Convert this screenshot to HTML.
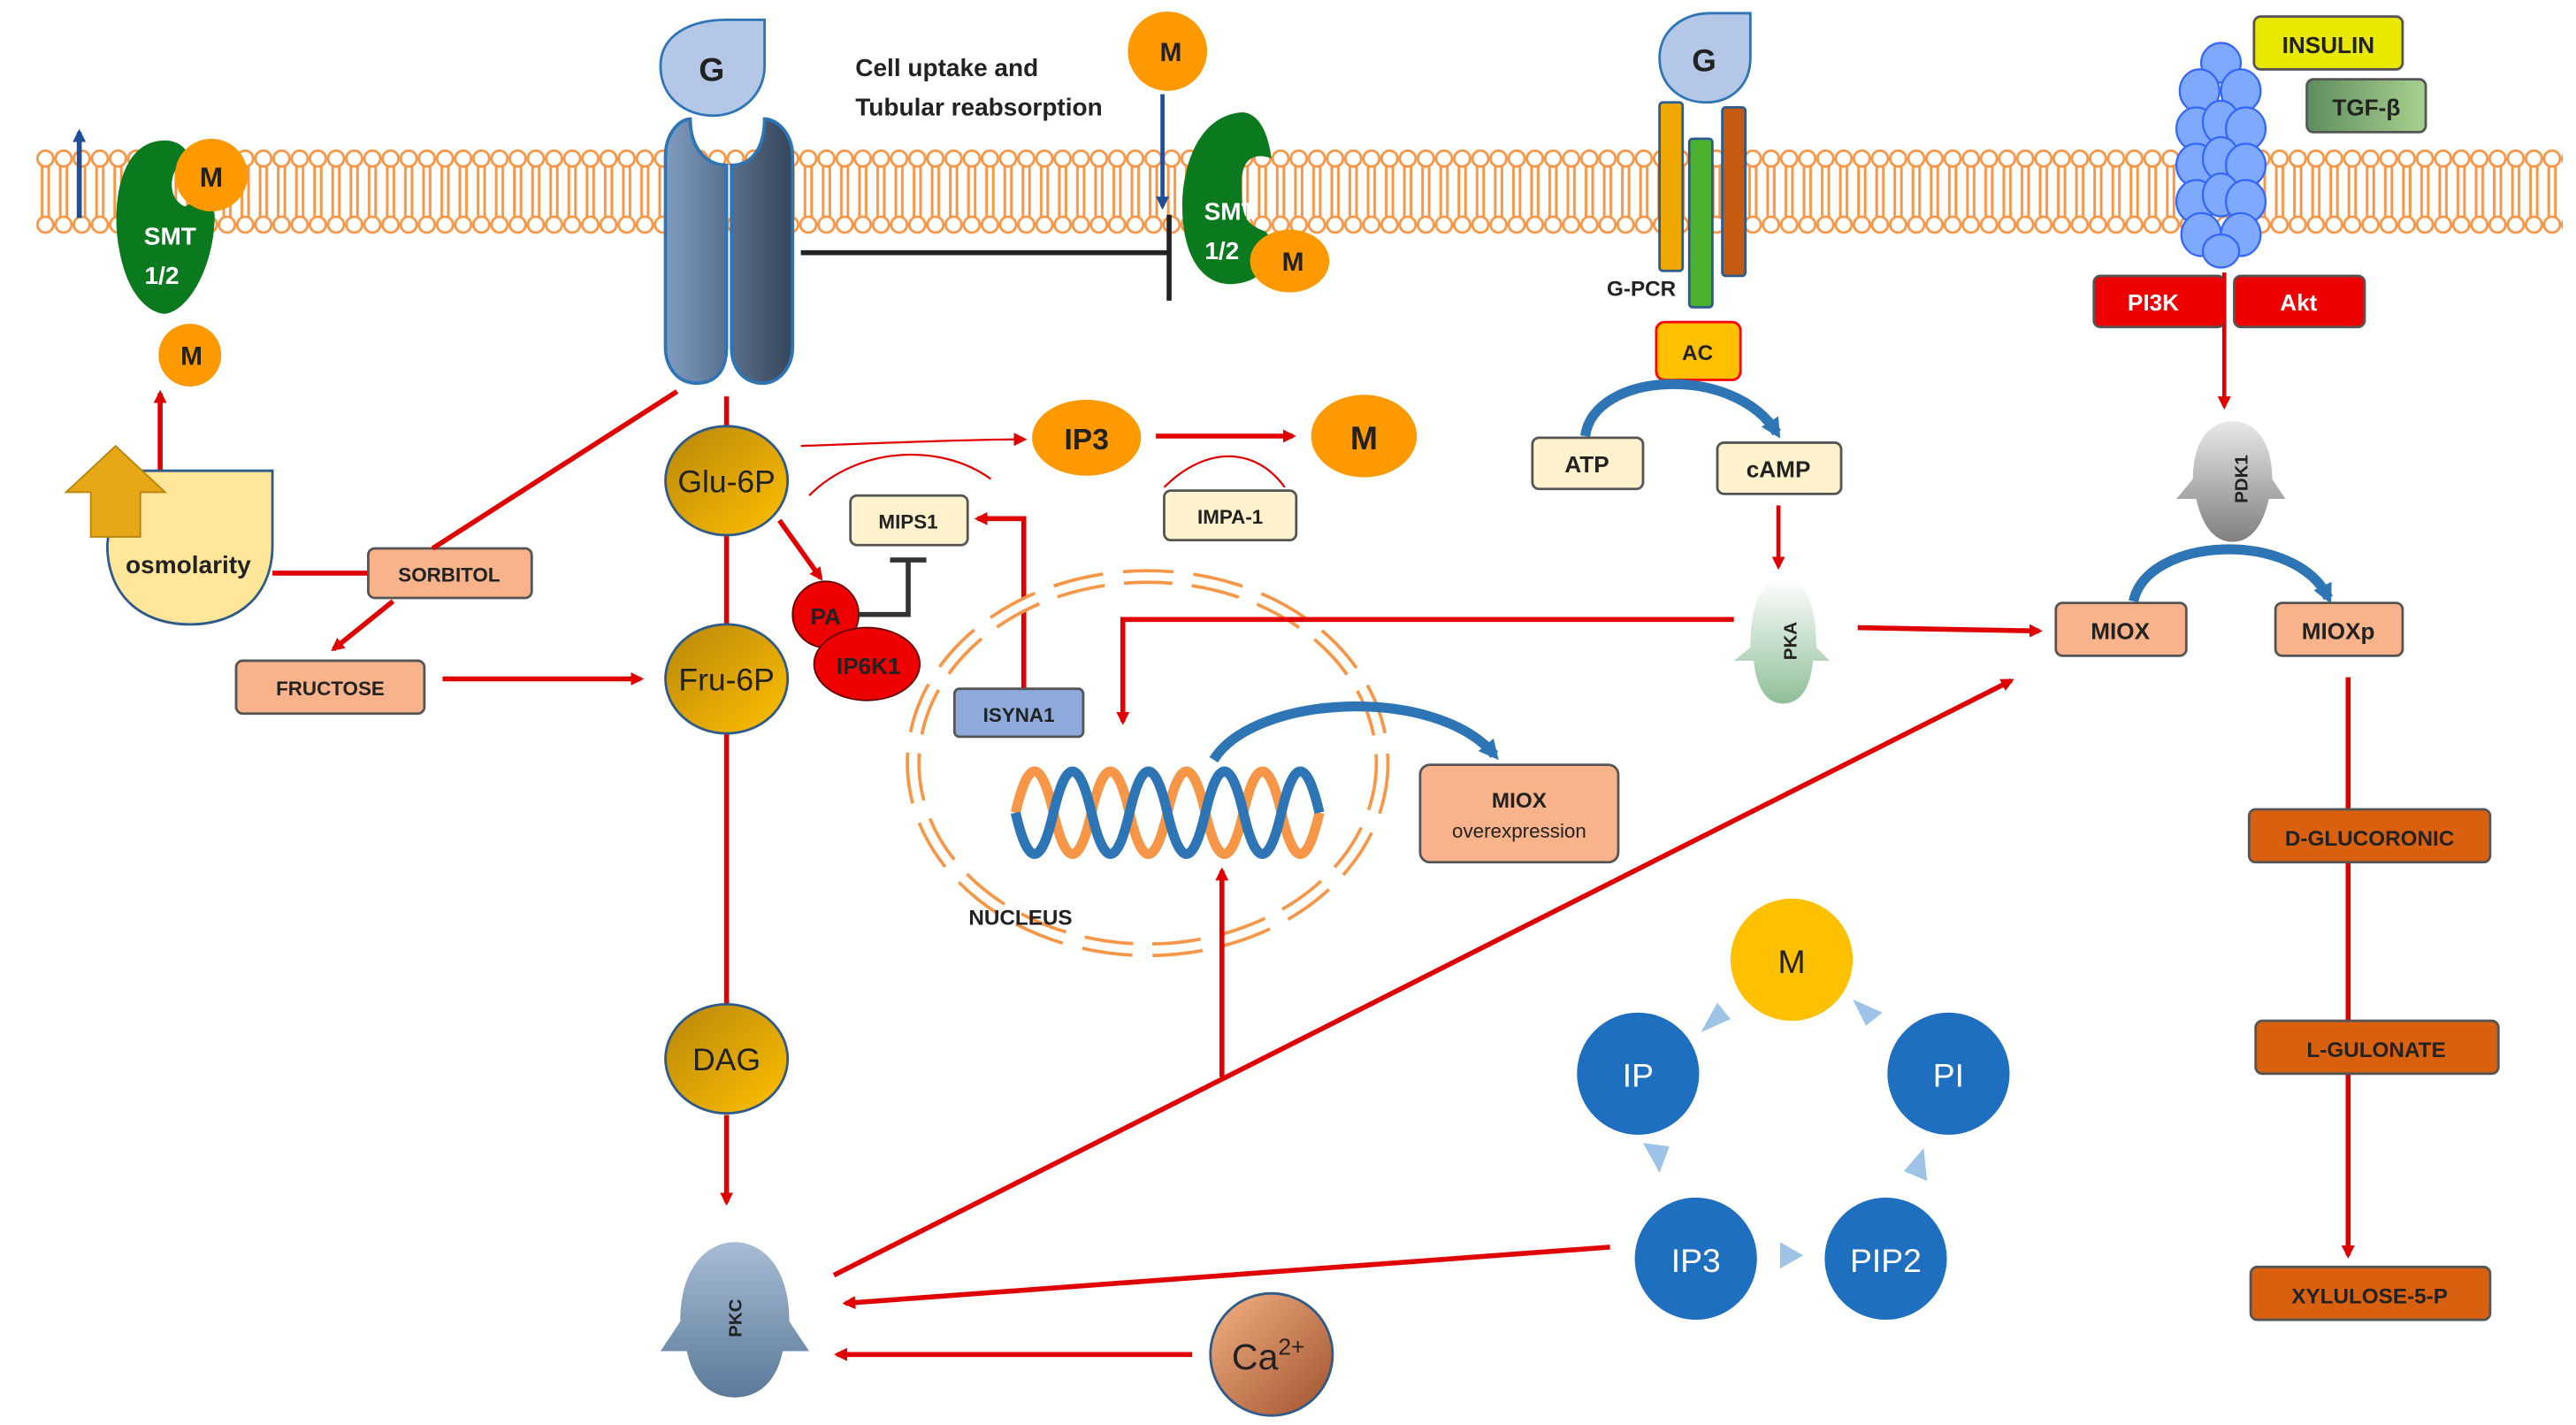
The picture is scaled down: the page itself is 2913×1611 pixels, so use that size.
<!DOCTYPE html>
<html><head><meta charset="utf-8"><style>
html,body{margin:0;padding:0;background:#fff;}
svg{display:block;}
text{font-family:"Liberation Sans",sans-serif;font-weight:bold;}
text.n{font-weight:normal;}
</style></head><body>
<svg width="2913" height="1611" viewBox="0 0 1560 862.7" preserveAspectRatio="none" xmlns="http://www.w3.org/2000/svg">
<defs>
<pattern id="mem" x="0" y="90" width="11" height="52" patternUnits="userSpaceOnUse">
<line x1="3.5" y1="10" x2="3.5" y2="42" stroke="#f79646" stroke-width="1.6"/>
<line x1="7.5" y1="10" x2="7.5" y2="42" stroke="#f79646" stroke-width="1.6"/>
<circle cx="5.5" cy="6" r="4.8" fill="#fff" stroke="#f79646" stroke-width="1.5"/>
<circle cx="5.5" cy="46" r="4.8" fill="#fff" stroke="#f79646" stroke-width="1.5"/>
</pattern>
<linearGradient id="gold" x1="0" y1="0" x2="1" y2="1"><stop offset="0" stop-color="#b8860b"/><stop offset="1" stop-color="#ffc000"/></linearGradient>
<linearGradient id="tp1" x1="0" x2="1"><stop offset="0" stop-color="#7f9cc0"/><stop offset="1" stop-color="#5a7090"/></linearGradient>
<linearGradient id="tp2" x1="0" x2="1"><stop offset="0" stop-color="#5a6e88"/><stop offset="1" stop-color="#34465c"/></linearGradient>
<linearGradient id="pkc" x1="0" y1="0" x2="0" y2="1"><stop offset="0" stop-color="#a8bcd4"/><stop offset="1" stop-color="#5a7a9a"/></linearGradient>
<linearGradient id="pka" x1="0" y1="0" x2="0" y2="1"><stop offset="0" stop-color="#ffffff"/><stop offset="1" stop-color="#8fbf98"/></linearGradient>
<linearGradient id="pdk" x1="0" y1="0" x2="0" y2="1"><stop offset="0" stop-color="#e8e8e8"/><stop offset="1" stop-color="#808080"/></linearGradient>
<linearGradient id="ca" x1="0" y1="0" x2="1" y2="1"><stop offset="0" stop-color="#f4b183"/><stop offset="1" stop-color="#a0522d"/></linearGradient>
<linearGradient id="tgf" x1="0" x2="1"><stop offset="0" stop-color="#5e8e5e"/><stop offset="1" stop-color="#a9d08e"/></linearGradient>
<marker id="ar" markerWidth="8" markerHeight="8" refX="6" refY="4" orient="auto" markerUnits="userSpaceOnUse"><path d="M0,0 L8,4 L0,8 Z" fill="#e00000"/></marker>
<marker id="ab" markerWidth="12" markerHeight="12" refX="8" refY="6" orient="auto" markerUnits="userSpaceOnUse"><path d="M0,0 L12,6 L0,12 Z" fill="#2e75b6"/></marker>
<marker id="abl" markerWidth="8" markerHeight="8" refX="6" refY="4" orient="auto" markerUnits="userSpaceOnUse"><path d="M0,0 L8,4 L0,8 Z" fill="#1f4e99"/></marker>
</defs>

<rect x="22" y="90" width="1530" height="52" fill="url(#mem)"/>

<!-- left SMT -->
<line x1="48" y1="132" x2="48" y2="80" stroke="#1f4e99" stroke-width="3" marker-end="url(#abl)"/>
<path d="M100,85 C70,85 68,130 72,150 C78,185 95,190 100,190 C115,188 130,160 130,130 C128,115 118,122 112,125 C100,120 102,100 115,95 C112,88 106,85 100,85 Z" fill="#0b7a1e"/>
<circle cx="128" cy="106" r="22" fill="#ff9900"/>
<text x="128" y="113" font-size="17" text-anchor="middle" fill="#222">M</text>
<text x="103" y="148" font-size="15" text-anchor="middle" fill="#fff">SMT</text>
<text x="98" y="172" font-size="15" text-anchor="middle" fill="#fff">1/2</text>
<circle cx="115" cy="215" r="19" fill="#ff9900"/>
<text x="116" y="221" font-size="16" text-anchor="middle" fill="#222">M</text>
<line x1="97" y1="285" x2="97" y2="238" stroke="#e00000" stroke-width="3" marker-end="url(#ar)"/>

<!-- osmolarity -->
<path d="M68,300 L68,285 L165,285 L165,330 C165,360 145,378 115,378 C85,378 65,360 65,330 Z" fill="#ffe699" stroke="#2e5b8a" stroke-width="1.5"/>
<path d="M55,325 L55,298 L40,298 L70,270 L100,298 L85,298 L85,325 Z" fill="#e6a817" stroke="#b8860b"/>
<text x="114" y="347" font-size="15" text-anchor="middle" fill="#222">osmolarity</text>
<line x1="165" y1="347" x2="223" y2="347" stroke="#e00000" stroke-width="3"/>
<rect x="223" y="332" width="99" height="30" rx="4" fill="#f8b38a" stroke="#555" stroke-width="1.5"/>
<text x="272" y="352" font-size="12" text-anchor="middle" fill="#222">SORBITOL</text>
<line x1="410" y1="237" x2="262" y2="332" stroke="#e00000" stroke-width="3"/>
<line x1="238" y1="364" x2="202" y2="393" stroke="#e00000" stroke-width="3" marker-end="url(#ar)"/>
<rect x="143" y="400" width="114" height="32" rx="4" fill="#f8b38a" stroke="#555" stroke-width="1.5"/>
<text x="200" y="421" font-size="12" text-anchor="middle" fill="#222">FRUCTOSE</text>
<line x1="268" y1="411" x2="388" y2="411" stroke="#e00000" stroke-width="3" marker-end="url(#ar)"/>

<!-- G transporter -->
<path d="M400,40 C400,20 420,12 440,12 L463,12 L463,40 C463,58 448,70 432,70 C414,70 400,58 400,40 Z" fill="#b4c7e7" stroke="#2e75b6" stroke-width="1.5"/>
<text x="431" y="49" font-size="20" text-anchor="middle" fill="#222">G</text>
<path d="M403,95 C403,80 412,72 418,72 C418,90 428,100 440,100 L440,210 C440,228 430,232 422,232 C410,232 403,222 403,210 Z" fill="url(#tp1)" stroke="#2e75b6" stroke-width="2"/>
<path d="M443,100 C455,100 463,90 463,72 C470,72 480,80 480,95 L480,210 C480,222 472,232 462,232 C452,232 443,225 443,210 Z" fill="url(#tp2)" stroke="#2e75b6" stroke-width="2"/>
<line x1="485" y1="153" x2="708" y2="153" stroke="#222" stroke-width="3"/>
<line x1="708" y1="130" x2="708" y2="182" stroke="#222" stroke-width="3"/>

<!-- glycolysis column -->
<line x1="440" y1="240" x2="440" y2="262" stroke="#e00000" stroke-width="3"/>
<line x1="440" y1="320" x2="440" y2="380" stroke="#e00000" stroke-width="3"/>
<line x1="440" y1="443" x2="440" y2="610" stroke="#e00000" stroke-width="3"/>
<line x1="440" y1="675" x2="440" y2="728" stroke="#e00000" stroke-width="3" marker-end="url(#ar)"/>
<ellipse cx="440" cy="291" rx="37" ry="33" fill="url(#gold)" stroke="#2e5b8a" stroke-width="1.5"/>
<text class="n" x="440" y="298" font-size="19" text-anchor="middle" fill="#222">Glu-6P</text>
<ellipse cx="440" cy="411" rx="37" ry="33" fill="url(#gold)" stroke="#2e5b8a" stroke-width="1.5"/>
<text class="n" x="440" y="418" font-size="19" text-anchor="middle" fill="#222">Fru-6P</text>
<ellipse cx="440" cy="641" rx="37" ry="33" fill="url(#gold)" stroke="#2e5b8a" stroke-width="1.5"/>
<text class="n" x="440" y="648" font-size="19" text-anchor="middle" fill="#222">DAG</text>

<!-- PKC -->
<path d="M412,800 C412,765 430,752 445,752 C460,752 478,765 478,800 L490,818 L474,818 C470,838 458,846 445,846 C432,846 420,838 416,818 L400,818 Z" fill="url(#pkc)"/>
<text x="0" y="0" font-size="11" text-anchor="middle" fill="#222" transform="translate(449,798) rotate(-90)">PKC</text>

<!-- PA / IP6K1 -->
<line x1="472" y1="315" x2="497" y2="350" stroke="#e00000" stroke-width="3" marker-end="url(#ar)"/>
<circle cx="500" cy="372" r="20" fill="#ee0000" stroke="#600" stroke-width="1"/>
<text x="500" y="378" font-size="14" text-anchor="middle" fill="#222">PA</text>
<ellipse cx="525" cy="402" rx="32" ry="22" fill="#ee0000" stroke="#600" stroke-width="1"/>
<text x="526" y="408" font-size="14" text-anchor="middle" fill="#222">IP6K1</text>
<path d="M520,372 L550,372 L550,340" fill="none" stroke="#333" stroke-width="3"/>
<line x1="539" y1="339" x2="561" y2="339" stroke="#333" stroke-width="3"/>
<rect x="515" y="300" width="71" height="30" rx="4" fill="#fff2cc" stroke="#555" stroke-width="1.5"/>
<text x="550" y="320" font-size="12" text-anchor="middle" fill="#222">MIPS1</text>
<path d="M620,417 L620,314 L592,314" fill="none" stroke="#e00000" stroke-width="3" marker-end="url(#ar)"/>
<rect x="578" y="417" width="78" height="29" rx="3" fill="#8eaadb" stroke="#555" stroke-width="1.5"/>
<text x="617" y="437" font-size="12" text-anchor="middle" fill="#222">ISYNA1</text>

<!-- IP3 / M -->
<path d="M485,270 C540,268 590,266 620,266" fill="none" stroke="#e00000" stroke-width="1.2" marker-end="url(#ar)"/>
<path d="M490,300 C520,270 570,268 600,290" fill="none" stroke="#e00000" stroke-width="1.2"/>
<ellipse cx="658" cy="265" rx="33" ry="23" fill="#ff9900"/>
<text x="658" y="272" font-size="18" text-anchor="middle" fill="#222">IP3</text>
<line x1="700" y1="264" x2="783" y2="264" stroke="#e00000" stroke-width="3" marker-end="url(#ar)"/>
<path d="M705,295 C730,270 760,270 778,295" fill="none" stroke="#e00000" stroke-width="1.2"/>
<ellipse cx="826" cy="264" rx="32" ry="25" fill="#ff9900"/>
<text x="826" y="272" font-size="20" text-anchor="middle" fill="#222">M</text>
<rect x="705" y="297" width="80" height="30" rx="4" fill="#fff2cc" stroke="#555" stroke-width="1.5"/>
<text x="745" y="317" font-size="12" text-anchor="middle" fill="#222">IMPA-1</text>

<!-- cell uptake -->
<text x="518" y="46" font-size="15" fill="#222">Cell uptake and</text>
<text x="518" y="70" font-size="15" fill="#222">Tubular reabsorption</text>
<circle cx="707" cy="31" r="24" fill="#ff9900"/>
<text x="709" y="37" font-size="16" text-anchor="middle" fill="#222">M</text>
<line x1="704" y1="57" x2="704" y2="125" stroke="#1f4e99" stroke-width="2.5" marker-end="url(#abl)"/>
<path d="M752,68 C726,70 716,100 716,125 C716,155 728,172 745,172 C760,172 772,162 774,148 L766,140 C752,135 752,128 752,110 C752,96 760,92 770,96 C768,80 762,68 752,68 Z" fill="#0b7a1e"/>
<text x="745" y="133" font-size="15" text-anchor="middle" fill="#fff">SMT</text>
<text x="740" y="157" font-size="15" text-anchor="middle" fill="#fff">1/2</text>
<ellipse cx="781" cy="158" rx="24" ry="19" fill="#ff9900"/>
<text x="783" y="164" font-size="16" text-anchor="middle" fill="#222">M</text>

<!-- nucleus -->
<ellipse cx="695" cy="462" rx="142" ry="113" fill="none" stroke="#f79646" stroke-width="9" stroke-dasharray="30 12"/>
<ellipse cx="695" cy="462" rx="142" ry="113" fill="none" stroke="#fff" stroke-width="5" stroke-dasharray="30 12"/>
<text x="618" y="560" font-size="13" text-anchor="middle" fill="#222">NUCLEUS</text>
<path d="M615,492 q11.5,-50 23,0 t23,0 t23,0 t23,0 t23,0 t23,0 t23,0 t23,0" fill="none" stroke="#f79646" stroke-width="6"/>
<path d="M615,492 q11.5,50 23,0 t23,0 t23,0 t23,0 t23,0 t23,0 t23,0 t23,0" fill="none" stroke="#2e75b6" stroke-width="6"/>
<path d="M735,460 C760,420 870,415 905,457" fill="none" stroke="#2e75b6" stroke-width="6" marker-end="url(#ab)"/>
<rect x="860" y="463" width="120" height="59" rx="6" fill="#f8b38a" stroke="#555" stroke-width="1.5"/>
<text x="920" y="489" font-size="13" text-anchor="middle" fill="#222">MIOX</text>
<text class="n" x="920" y="507" font-size="12" text-anchor="middle" fill="#222">overexpression</text>
<path d="M1050,375 L680,375 L680,437" fill="none" stroke="#e00000" stroke-width="3" marker-end="url(#ar)"/>
<line x1="740" y1="652" x2="740" y2="527" stroke="#e00000" stroke-width="3" marker-end="url(#ar)"/>
<line x1="505" y1="772" x2="1218" y2="412" stroke="#e00000" stroke-width="3" marker-end="url(#ar)"/>
<line x1="975" y1="755" x2="512" y2="789" stroke="#e00000" stroke-width="3" marker-end="url(#ar)"/>
<line x1="722" y1="820" x2="507" y2="820" stroke="#e00000" stroke-width="3" marker-end="url(#ar)"/>
<circle cx="770" cy="820" r="37" fill="url(#ca)" stroke="#2e5b8a" stroke-width="1.5"/>
<text class="n" x="768" y="829" font-size="22" text-anchor="middle" fill="#222">Ca<tspan font-size="14" dy="-9">2+</tspan></text>

<!-- cycle -->
<g fill="#9dc3e6">
<path d="M1030,625 l10,-18 l8,10 z"/>
<path d="M1122,605 l18,8 l-10,8 z"/>
<path d="M1165,695 l2,20 l-14,-6 z"/>
<path d="M1092,760 l-14,-8 l0,16 z"/>
<path d="M1005,710 l-10,-18 l16,2 z"/>
</g>
<circle cx="1085" cy="581" r="37" fill="#ffc000"/>
<text class="n" x="1085" y="589" font-size="20" text-anchor="middle" fill="#222">M</text>
<circle cx="1180" cy="650" r="37" fill="#1f6fc0"/>
<text class="n" x="1180" y="658" font-size="20" text-anchor="middle" fill="#fff">PI</text>
<circle cx="1142" cy="762" r="37" fill="#1f6fc0"/>
<text class="n" x="1142" y="770" font-size="20" text-anchor="middle" fill="#fff">PIP2</text>
<circle cx="1027" cy="762" r="37" fill="#1f6fc0"/>
<text class="n" x="1027" y="770" font-size="20" text-anchor="middle" fill="#fff">IP3</text>
<circle cx="992" cy="650" r="37" fill="#1f6fc0"/>
<text class="n" x="992" y="658" font-size="20" text-anchor="middle" fill="#fff">IP</text>

<!-- GPCR -->
<path d="M1005,35 C1005,18 1020,8 1035,8 L1060,8 L1060,35 C1060,52 1048,62 1033,62 C1018,62 1005,52 1005,35 Z" fill="#b4c7e7" stroke="#2e75b6" stroke-width="1.5"/>
<text x="1032" y="43" font-size="19" text-anchor="middle" fill="#222">G</text>
<rect x="1005" y="62" width="14" height="102" rx="2" fill="#f0a800" stroke="#2e5b8a" stroke-width="1.5"/>
<rect x="1043" y="65" width="14" height="102" rx="2" fill="#c55a11" stroke="#2e5b8a" stroke-width="1.5"/>
<rect x="1023" y="84" width="14" height="102" rx="2" fill="#4cb030" stroke="#2e5b8a" stroke-width="1.5"/>
<text x="994" y="179" font-size="13" text-anchor="middle" fill="#222">G-PCR</text>
<rect x="1003" y="195" width="51" height="35" rx="5" fill="#ffc000" stroke="#f00" stroke-width="1.5"/>
<text x="1028" y="218" font-size="13" text-anchor="middle" fill="#222">AC</text>
<path d="M960,264 C965,225 1050,220 1076,262" fill="none" stroke="#2e75b6" stroke-width="6" marker-end="url(#ab)"/>
<rect x="928" y="265" width="67" height="31" rx="4" fill="#fff2cc" stroke="#555" stroke-width="1.5"/>
<text x="961" y="286" font-size="14" text-anchor="middle" fill="#222">ATP</text>
<rect x="1040" y="268" width="75" height="31" rx="4" fill="#fff2cc" stroke="#555" stroke-width="1.5"/>
<text x="1077" y="289" font-size="14" text-anchor="middle" fill="#222">cAMP</text>
<line x1="1077" y1="306" x2="1077" y2="343" stroke="#e00000" stroke-width="2.5" marker-end="url(#ar)"/>
<path d="M1060,392 C1060,360 1070,350 1080,350 C1090,350 1100,360 1100,392 L1108,400 L1098,400 C1096,420 1088,426 1080,426 C1072,426 1064,420 1062,400 L1050,400 Z" fill="url(#pka)"/>
<text x="0" y="0" font-size="11" text-anchor="middle" fill="#222" transform="translate(1088,388) rotate(-90)">PKA</text>
<line x1="1125" y1="380" x2="1235" y2="382" stroke="#e00000" stroke-width="3" marker-end="url(#ar)"/>

<!-- insulin receptor -->
<g fill="#7fa8ff" stroke="#3366ff" stroke-width="1.2">
<ellipse cx="1345" cy="38" rx="12" ry="12"/>
<ellipse cx="1332" cy="55" rx="12" ry="13"/><ellipse cx="1357" cy="55" rx="12" ry="13"/>
<ellipse cx="1330" cy="78" rx="12" ry="13"/><ellipse cx="1345" cy="74" rx="11" ry="13"/><ellipse cx="1360" cy="78" rx="12" ry="13"/>
<ellipse cx="1330" cy="100" rx="12" ry="13"/><ellipse cx="1345" cy="96" rx="11" ry="13"/><ellipse cx="1360" cy="100" rx="12" ry="13"/>
<ellipse cx="1330" cy="122" rx="12" ry="13"/><ellipse cx="1345" cy="118" rx="11" ry="13"/><ellipse cx="1360" cy="122" rx="12" ry="13"/>
<ellipse cx="1333" cy="142" rx="12" ry="13"/><ellipse cx="1357" cy="142" rx="12" ry="13"/>
<ellipse cx="1345" cy="152" rx="11" ry="10"/>
</g>
<rect x="1365" y="10" width="90" height="32" rx="4" fill="#e8e800" stroke="#555" stroke-width="1.5"/>
<text x="1410" y="32" font-size="14" text-anchor="middle" fill="#222">INSULIN</text>
<rect x="1397" y="48" width="72" height="32" rx="4" fill="url(#tgf)" stroke="#555" stroke-width="1.5"/>
<text x="1433" y="70" font-size="14" text-anchor="middle" fill="#222">TGF-β</text>
<rect x="1268" y="167" width="79" height="31" rx="4" fill="#ee0000" stroke="#555" stroke-width="1.5"/>
<text x="1304" y="188" font-size="14" text-anchor="middle" fill="#fff">PI3K</text>
<rect x="1353" y="167" width="79" height="31" rx="4" fill="#ee0000" stroke="#555" stroke-width="1.5"/>
<text x="1392" y="188" font-size="14" text-anchor="middle" fill="#fff">Akt</text>
<line x1="1347" y1="165" x2="1347" y2="246" stroke="#e00000" stroke-width="2.5" marker-end="url(#ar)"/>
<path d="M1328,290 C1328,265 1340,255 1352,255 C1364,255 1376,265 1376,290 L1384,302 L1374,302 C1370,320 1362,328 1352,328 C1342,328 1334,320 1330,302 L1318,302 Z" fill="url(#pdk)"/>
<text x="0" y="0" font-size="11" text-anchor="middle" fill="#222" transform="translate(1361,290) rotate(-90)">PDK1</text>
<path d="M1292,364 C1300,325 1390,320 1410,362" fill="none" stroke="#2e75b6" stroke-width="6" marker-end="url(#ab)"/>
<rect x="1245" y="365" width="79" height="32" rx="4" fill="#f8b38a" stroke="#555" stroke-width="1.5"/>
<text x="1284" y="387" font-size="14" text-anchor="middle" fill="#222">MIOX</text>
<rect x="1378" y="365" width="77" height="32" rx="4" fill="#f8b38a" stroke="#555" stroke-width="1.5"/>
<text x="1416" y="387" font-size="14" text-anchor="middle" fill="#222">MIOXp</text>

<line x1="1422" y1="410" x2="1422" y2="490" stroke="#e00000" stroke-width="3"/>
<line x1="1422" y1="522" x2="1422" y2="618" stroke="#e00000" stroke-width="3"/>
<line x1="1422" y1="650" x2="1422" y2="760" stroke="#e00000" stroke-width="3" marker-end="url(#ar)"/>
<rect x="1362" y="490" width="146" height="32" rx="4" fill="#d9600e" stroke="#555" stroke-width="1.5"/>
<text x="1435" y="512" font-size="13" text-anchor="middle" fill="#222">D-GLUCORONIC</text>
<rect x="1366" y="618" width="147" height="32" rx="4" fill="#d9600e" stroke="#555" stroke-width="1.5"/>
<text x="1439" y="640" font-size="13" text-anchor="middle" fill="#222">L-GULONATE</text>
<rect x="1363" y="767" width="145" height="32" rx="4" fill="#d9600e" stroke="#555" stroke-width="1.5"/>
<text x="1435" y="789" font-size="13" text-anchor="middle" fill="#222">XYLULOSE-5-P</text>
</svg>
</body></html>
